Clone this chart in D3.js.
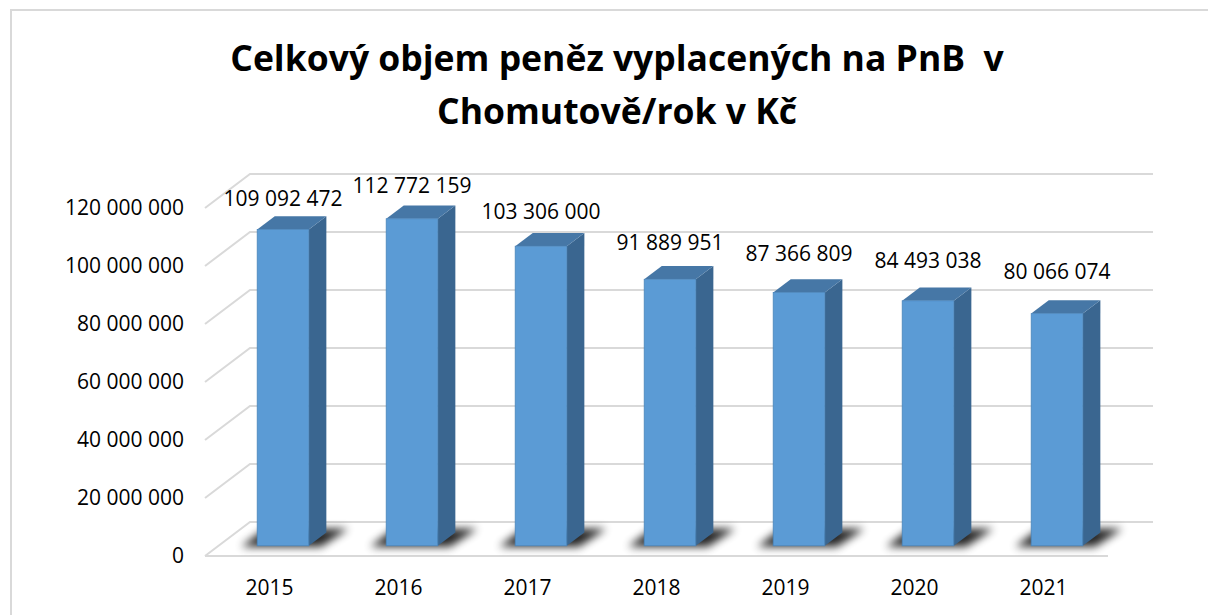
<!DOCTYPE html>
<html>
<head>
<meta charset="utf-8">
<script src="https://cdn.jsdelivr.net/npm/d3@7"></script>
<style>
  body { margin: 0; background: #fff; }
  svg { display: block; }
  text { font-family: "Open Sans", sans-serif; fill: #000; }
</style>
</head>
<body>
<div id="chart"></div>
<script>
const years = ["2015", "2016", "2017", "2018", "2019", "2020", "2021"];
const values = [109092472, 112772159, 103306000, 91889951, 87366809, 84493038, 80066074];
const yTicks = [0, 20000000, 40000000, 60000000, 80000000, 100000000, 120000000];
const titleLines = ["Celkový objem peněz vyplacených na PnB  v", "Chomutově/rok v Kč"];

const width = 1208;
const height = 615;

const svg = d3
  .select("#chart")
  .append("svg")
  .attr("width", width)
  .attr("height", height);

// depth of the 3d box (oblique projection)
const depthX = 45;
const depthY = -34;
const floorFront = 556;
const floorLeft = 205;
const floorRight = 1108;
const barD0 = 0.3;
const barD1 = 0.69;

const x = d3
  .scaleBand()
  .domain(years)
  .range([floorLeft, floorRight])
  .paddingInner(0.6)
  .paddingOuter(0.3);

const xCat = d3
  .scaleBand()
  .domain(years)
  .range([floorLeft, floorRight]);

const h = d3.scaleLinear().domain([0, 120000000]).range([0, 348]);

const fmt = v => d3.format(",")(v).replace(/,/g, " ");

const defs = svg.append("defs");
defs.append("filter")
  .attr("id", "blur")
  .attr("x", "-50%").attr("y", "-50%")
  .attr("width", "200%").attr("height", "200%")
  .append("feGaussianBlur")
  .attr("stdDeviation", 4);

// chart border
svg.append("rect")
  .attr("x", 11)
  .attr("y", 10)
  .attr("width", 1300)
  .attr("height", 700)
  .attr("fill", "#fff")
  .attr("stroke", "#d9d9d9")
  .attr("stroke-width", 2);

// title
svg.selectAll(".title")
  .data(titleLines)
  .join("text")
  .attr("class", "title")
  .attr("x", 617)
  .attr("y", (d, i) => 71 + i * 53)
  .attr("text-anchor", "middle")
  .style("white-space", "pre")
  .attr("font-size", "35.5px")
  .attr("font-weight", "bold")
  .text(d => d);

// gridlines: side wall diagonal + back wall
svg.selectAll(".grid")
  .data(yTicks)
  .join("path")
  .attr("class", "grid")
  .attr("fill", "none")
  .attr("stroke", "#d9d9d9")
  .attr("stroke-width", 2)
  .attr("d", d => {
    const fy = floorFront - h(d);
    return `M${floorLeft},${fy}L${floorLeft + depthX},${fy + depthY}L${floorRight + depthX},${fy + depthY}`;
  });

// floor front edge
svg.append("line")
  .attr("x1", floorLeft)
  .attr("x2", floorRight)
  .attr("y1", floorFront)
  .attr("y2", floorFront)
  .attr("stroke", "#d9d9d9")
  .attr("stroke-width", 2);

// y labels
svg.selectAll(".ylab")
  .data(yTicks)
  .join("text")
  .attr("class", "ylab")
  .attr("x", 184)
  .attr("y", d => floorFront - h(d))
  .attr("dy", "0.35em")
  .attr("text-anchor", "end")
  .attr("font-size", "21px")
  .text(d => fmt(d));

// x labels
svg.selectAll(".xlab")
  .data(years)
  .join("text")
  .attr("class", "xlab")
  .attr("x", d => xCat(d) + xCat.bandwidth() / 2)
  .attr("y", 595)
  .attr("text-anchor", "middle")
  .attr("font-size", "21px")
  .text(d => d);

const data = years.map((y, i) => ({ year: y, value: values[i], i }));

const bw = x.bandwidth();
const fx = d => x(d.year) + barD0 * depthX;
const fyBottom = floorFront + barD0 * depthY;
const sx = (barD1 - barD0) * depthX;
const sy = (barD1 - barD0) * depthY;

// shadows on floor
svg.selectAll(".shadow")
  .data(data)
  .join("path")
  .attr("class", "shadow")
  .attr("fill", "#000")
  .attr("opacity", 0.85)
  .attr("filter", "url(#blur)")
  .attr("d", d => {
    const x0 = fx(d);
    const yF = fyBottom + 1;
    const yB = fyBottom - 17;
    return `M${x0 - 16},${yF}L${x0 + bw + 12},${yF}L${x0 + bw + sx + 22},${yB}L${x0 + 8},${yB}Z`;
  });

const bars = svg.selectAll(".bar")
  .data(data)
  .join("g")
  .attr("class", "bar");

// side face
bars.append("path")
  .attr("fill", "#3a6690")
  .attr("d", d => {
    const x1 = fx(d) + bw;
    const top = fyBottom - h(d.value);
    return `M${x1},${fyBottom}L${x1 + sx},${fyBottom + sy}L${x1 + sx},${top + sy}L${x1},${top}Z`;
  });

// top face
bars.append("path")
  .attr("fill", "#4677a6")
  .attr("d", d => {
    const x0 = fx(d);
    const top = fyBottom - h(d.value);
    return `M${x0},${top}L${x0 + bw},${top}L${x0 + bw + sx},${top + sy}L${x0 + sx},${top + sy}Z`;
  });

// front face
bars.append("rect")
  .attr("fill", "#5b9bd5")
  .attr("stroke", "#4a85bb")
  .attr("stroke-width", 0.8)
  .attr("x", d => fx(d))
  .attr("y", d => fyBottom - h(d.value))
  .attr("width", bw)
  .attr("height", d => h(d.value));

// data labels
svg.selectAll(".vlab")
  .data(data)
  .join("text")
  .attr("class", "vlab")
  .attr("x", d => fx(d) + bw / 2)
  .attr("y", d => fyBottom - h(d.value) + sy - 18 - 1.8 * d.i)
  .attr("dy", "0.35em")
  .attr("text-anchor", "middle")
  .attr("font-size", "21px")
  .text(d => fmt(d.value));
</script>
</body>
</html>
